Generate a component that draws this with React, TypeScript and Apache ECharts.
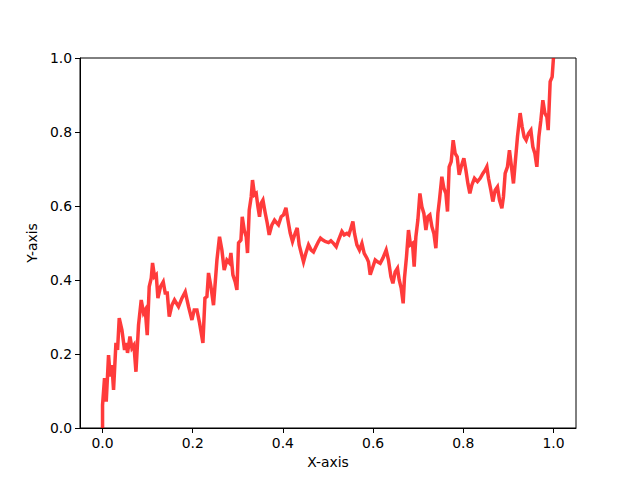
import React, { useEffect, useRef } from "react";
import * as echarts from "echarts";

// Curve samples (x in data units, y in data units)
const xs: number[] = [
  0.0, 0.0, 0.0044, 0.0082, 0.0133, 0.0171, 0.0208, 0.0244, 0.0297, 0.0333, 0.037, 0.043, 0.0488, 0.0525, 0.0554,
  0.0608, 0.0652, 0.0696, 0.0741, 0.0798, 0.0858, 0.0909, 0.0947, 0.0991, 0.1035, 0.108, 0.1109, 0.1153, 0.1191,
  0.1228, 0.1286, 0.1346, 0.139, 0.1435, 0.1479, 0.1539, 0.1596,
  0.1685, 0.1761, 0.1834, 0.1907, 0.1982, 0.2033, 0.2093, 0.2151, 0.2226, 0.2271, 0.2315, 0.235, 0.2404, 0.2461,
  0.2537, 0.2594, 0.2647, 0.2698, 0.2758, 0.2816, 0.2847, 0.2891, 0.2942, 0.298, 0.3016, 0.3069, 0.3098, 0.3142,
  0.3186, 0.3215,
  0.3253, 0.3297, 0.3326, 0.337, 0.3408, 0.3446, 0.3481, 0.3519, 0.3557, 0.3608, 0.3652, 0.3696, 0.3756, 0.3814,
  0.3867, 0.3902, 0.3962, 0.4013, 0.4067, 0.4111, 0.4162, 0.4213, 0.4273, 0.4317, 0.4361, 0.4406, 0.4457, 0.451,
  0.4568, 0.4627, 0.4678, 0.4732, 0.4789, 0.4834,
  0.4887, 0.4938, 0.5011, 0.5064, 0.5122, 0.5182, 0.5233, 0.5308, 0.5359, 0.5419, 0.5463, 0.5508, 0.5552, 0.5588,
  0.5641, 0.5698, 0.5752, 0.5803, 0.5863, 0.5898, 0.5936, 0.5996, 0.6047, 0.6098, 0.6157, 0.6217, 0.629, 0.6341,
  0.6395, 0.6439, 0.649, 0.6541,
  0.6579, 0.6623, 0.6667, 0.6696, 0.6741, 0.6785, 0.6829, 0.6874, 0.6911, 0.6949, 0.6993, 0.7038, 0.7082, 0.7126,
  0.7171, 0.7215, 0.7259, 0.7304, 0.7348, 0.7392, 0.7437, 0.7472, 0.7525, 0.757, 0.7614, 0.765, 0.7687, 0.7732,
  0.7776, 0.782, 0.7865, 0.7909, 0.7953, 0.8013, 0.8058, 0.8102, 0.8146, 0.8191, 0.8248,
  0.8315, 0.8375, 0.8435, 0.8486, 0.8523, 0.8559, 0.8612, 0.8656, 0.8707, 0.8758, 0.8803, 0.8856, 0.8891, 0.8929,
  0.898, 0.9024, 0.9069, 0.9113, 0.9157, 0.9202, 0.9261, 0.9306, 0.935, 0.9395, 0.9446, 0.9499, 0.9543, 0.9588,
  0.9632, 0.9676, 0.9721, 0.9765, 0.9809, 0.9854, 0.9883, 0.9927, 0.9971, 1.0,
];
const ys: number[] = [
  0.0, 0.062, 0.135, 0.071, 0.197, 0.139, 0.17, 0.103, 0.23, 0.211, 0.297, 0.265, 0.211, 0.23, 0.203,
  0.247, 0.216, 0.224, 0.152, 0.278, 0.346, 0.311, 0.319, 0.251, 0.382, 0.405, 0.446, 0.409, 0.414,
  0.351, 0.382, 0.395, 0.365, 0.365, 0.301, 0.332, 0.346,
  0.328, 0.351, 0.368, 0.328, 0.292, 0.319, 0.319, 0.284, 0.23, 0.351, 0.355, 0.419, 0.382, 0.332,
  0.454, 0.517, 0.481, 0.427, 0.454, 0.446, 0.473, 0.414, 0.395, 0.373, 0.5, 0.508, 0.571, 0.535,
  0.517, 0.473,
  0.589, 0.625, 0.67, 0.63, 0.634, 0.598, 0.571, 0.608, 0.616, 0.581, 0.554, 0.522, 0.549, 0.562,
  0.554, 0.549, 0.571, 0.576, 0.595, 0.562, 0.527, 0.504, 0.527, 0.541, 0.495, 0.473, 0.449, 0.473,
  0.495, 0.481, 0.476, 0.49, 0.504, 0.513,
  0.508, 0.504, 0.501, 0.506, 0.499, 0.49, 0.508, 0.531, 0.522, 0.526, 0.522, 0.54, 0.558, 0.526,
  0.495, 0.481, 0.499, 0.472, 0.459, 0.449, 0.414, 0.436, 0.454, 0.449, 0.445, 0.459, 0.481, 0.454,
  0.409, 0.391, 0.422, 0.432,
  0.4, 0.378, 0.337, 0.405, 0.463, 0.535, 0.495, 0.499, 0.436, 0.517, 0.562, 0.634, 0.598, 0.58,
  0.535, 0.571, 0.576, 0.544, 0.526, 0.486, 0.58, 0.616, 0.679, 0.648, 0.634, 0.585, 0.706, 0.72,
  0.778, 0.742, 0.733, 0.684, 0.706, 0.729, 0.697, 0.661, 0.634, 0.657, 0.675,
  0.666, 0.675, 0.688, 0.697, 0.706, 0.675, 0.643, 0.612, 0.643, 0.652, 0.616, 0.594, 0.625, 0.688,
  0.706, 0.751, 0.706, 0.661, 0.724, 0.787, 0.851, 0.814, 0.787, 0.778, 0.796, 0.805, 0.76, 0.742,
  0.706, 0.787, 0.832, 0.886, 0.851, 0.841, 0.805, 0.936, 0.949, 1.0,
];

const xTicks = [0, 0.2, 0.4, 0.6, 0.8, 1.0];

const FONT = "DejaVu Sans";

export default function App() {
  const ref = useRef<HTMLDivElement>(null);
  useEffect(() => {
    if (!ref.current) return;
    const chart = echarts.init(ref.current, undefined, { renderer: "svg" });
    const data = xs.map((x, i) => [x, ys[i]]);
    chart.setOption({
      animation: false,
      backgroundColor: "#ffffff",
      grid: {
        left: 80,
        right: 64,
        top: 58,
        bottom: 52,
        show: true,
        borderColor: "#000",
        borderWidth: 1,
        backgroundColor: "transparent",
      },
      xAxis: {
        type: "value",
        min: -0.05,
        max: 1.05,
        name: "X-axis",
        nameLocation: "middle",
        nameGap: 27,
        nameTextStyle: { fontFamily: FONT, fontSize: 13.9, color: "#000" },
        splitLine: { show: false },
        axisLine: { show: true, onZero: false, lineStyle: { color: "#000", width: 1 } },
        axisTick: {
          show: true,
          inside: false,
          length: 5,
          customValues: xTicks,
          lineStyle: { color: "#000", width: 1 },
        },
        axisLabel: {
          customValues: xTicks,
          margin: 8,
          fontFamily: FONT,
          fontSize: 13.9,
          color: "#000",
          formatter: (v: number) => v.toFixed(1),
        },
      },
      yAxis: {
        type: "value",
        min: 0,
        max: 1,
        interval: 0.2,
        name: "Y-axis",
        nameLocation: "middle",
        nameGap: 38,
        nameRotate: 90,
        nameTextStyle: { fontFamily: FONT, fontSize: 13.9, color: "#000" },
        splitLine: { show: false },
        axisLine: { show: true, onZero: false, lineStyle: { color: "#000", width: 1 } },
        axisTick: { show: true, inside: false, length: 5, lineStyle: { color: "#000", width: 1 } },
        axisLabel: {
          margin: 8,
          fontFamily: FONT,
          fontSize: 13.9,
          color: "#000",
          formatter: (v: number) => v.toFixed(1),
        },
      },
      series: [
        {
          type: "line",
          data,
          showSymbol: false,
          symbol: "none",
          clip: false,
          lineStyle: { color: "rgba(255,0,0,0.77)", width: 3.5, join: "miter" },
        },
      ],
    });
    return () => chart.dispose();
  }, []);
  return <div ref={ref} style={{ width: 640, height: 480, position: "absolute", left: 0, top: 0 }} />;
}
